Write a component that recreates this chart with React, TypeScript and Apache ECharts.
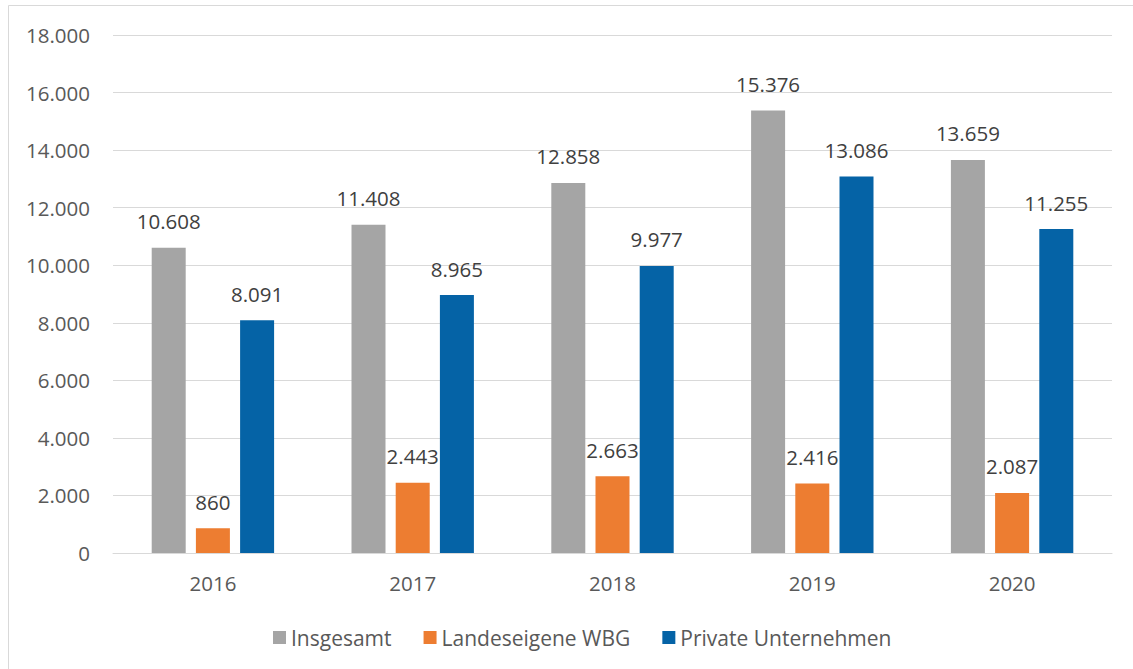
import React, { useEffect, useRef } from "react";
import * as echarts from "echarts";

const years = ["2016", "2017", "2018", "2019", "2020"];
const seriesNames = ["Insgesamt", "Landeseigene WBG", "Private Unternehmen"];
const insgesamt = [10608, 11408, 12858, 15376, 13659];
const landeseigene = [860, 2443, 2663, 2416, 2087];
const privat = [8091, 8965, 9977, 13086, 11255];
const colors = ["#A5A5A5", "#ED7D31", "#0563A6"];

const fmt = (v: number) => {
  const s = String(Math.round(v));
  return s.replace(/\B(?=(\d{3})+(?!\d))/g, ".");
};

export default function App() {
  const ref = useRef<HTMLDivElement>(null);
  useEffect(() => {
    if (!ref.current) return;
    const chart = echarts.init(ref.current, undefined, { renderer: "svg" });
    const font = "'Open Sans', 'DejaVu Sans', sans-serif";
    const mk = (name: string, data: number[], color: string) => ({
      name,
      type: "bar",
      data,
      barWidth: 34,
      barGap: "30%",
      itemStyle: { color },
      label: {
        show: true,
        position: "top",
        distance: 16,
        formatter: (p: any) => fmt(p.value),
        color: "#404040",
        fontSize: 20.5,
        fontFamily: font,
      },
    });
    chart.setOption({
      animation: false,
      backgroundColor: "#ffffff",
      grid: { left: 113, right: 21, top: 35, bottom: 116, containLabel: false },
      legend: {
        data: seriesNames,
        bottom: 16,
        left: 268,
        itemWidth: 13,
        itemHeight: 13,
        itemGap: 32,
        icon: "rect",
        textStyle: { color: "#595959", fontSize: 21, fontFamily: font, padding: [0, 0, 0, 0] },
      },
      xAxis: {
        type: "category",
        data: years,
        axisLine: { lineStyle: { color: "#D9D9D9", width: 1 } },
        axisTick: { show: false },
        axisLabel: { color: "#595959", fontSize: 20.5, fontFamily: font, margin: 19 },
      },
      yAxis: {
        type: "value",
        min: 0,
        max: 18000,
        interval: 2000,
        axisLine: { show: false },
        axisTick: { show: false },
        splitLine: { lineStyle: { color: "#D9D9D9", width: 1 } },
        axisLabel: { color: "#595959", fontSize: 20.5, fontFamily: font, margin: 23, formatter: (v: number) => fmt(v) },
      },
      graphic: [
        { type: "line", shape: { x1: 8.5, y1: 5.5, x2: 1133, y2: 5.5 }, style: { stroke: "#D9D9D9", lineWidth: 1 } },
        { type: "line", shape: { x1: 8.5, y1: 5.5, x2: 8.5, y2: 669 }, style: { stroke: "#D9D9D9", lineWidth: 1 } },
      ],
      series: [
        mk(seriesNames[0], insgesamt, colors[0]),
        mk(seriesNames[1], landeseigene, colors[1]),
        mk(seriesNames[2], privat, colors[2]),
      ],
    });
    return () => chart.dispose();
  }, []);
  return (
    <div
      ref={ref}
      style={{ position: "fixed", left: 0, top: 0, width: 1133, height: 669, background: "#fff" }}
    />
  );
}
